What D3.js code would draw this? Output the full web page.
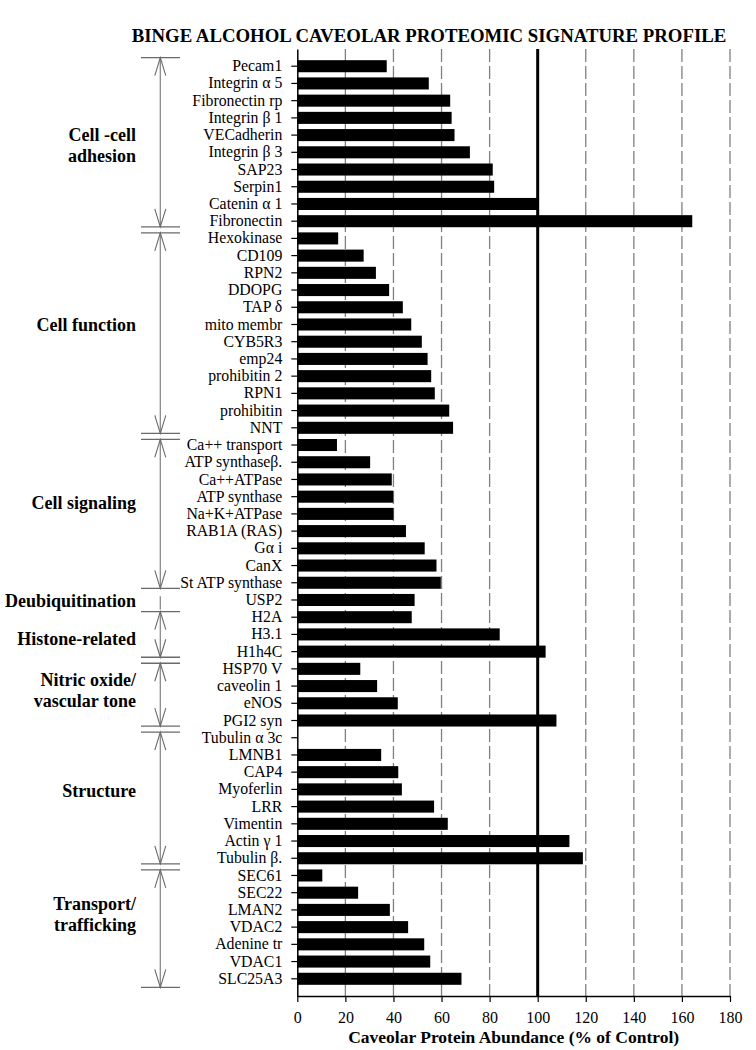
<!DOCTYPE html>
<html>
<head>
<meta charset="utf-8">
<script src="https://cdn.jsdelivr.net/npm/d3@7"></script>
<style>
  html, body { margin: 0; padding: 0; background: #fff; }
  svg { display: block; }
  text { font-family: "Liberation Serif", "Times New Roman", serif; fill: #000; }
</style>
</head>
<body>
<script>
// ---------- DATA ----------
const proteins = [
  "Pecam1", "Integrin α 5", "Fibronectin rp", "Integrin β 1", "VECadherin", "Integrin β 3",
  "SAP23", "Serpin1", "Catenin α 1", "Fibronectin",
  "Hexokinase", "CD109", "RPN2", "DDOPG", "TAP  δ", "mito membr", "CYB5R3", "emp24",
  "prohibitin 2", "RPN1", "prohibitin", "NNT",
  "Ca++ transport", "ATP synthaseβ.", "Ca++ATPase", "ATP synthase", "Na+K+ATPase",
  "RAB1A (RAS)", "Gα i", "CanX", "St ATP synthase",
  "USP2",
  "H2A", "H3.1", "H1h4C",
  "HSP70 V", "caveolin 1", "eNOS", "PGI2 syn",
  "Tubulin α 3c", "LMNB1", "CAP4", "Myoferlin", "LRR", "Vimentin", "Actin γ 1", "Tubulin β.",
  "SEC61", "SEC22", "LMAN2", "VDAC2", "Adenine tr", "VDAC1", "SLC25A3"
];
const abundance = [
  37.2, 54.7, 63.6, 64.2, 65.4, 71.8, 81.3, 81.9, 100, 164.3,
  17.0, 27.6, 32.7, 38.2, 43.9, 47.4, 51.8, 54.2, 55.7, 57.2, 63.2, 64.8,
  16.5, 30.3, 39.3, 39.9, 40.0, 45.2, 53.0, 57.9, 59.7,
  48.8,
  47.6, 84.2, 103.3,
  26.2, 33.2, 41.8, 107.8,
  0, 34.9, 42.0, 43.5, 56.9, 62.6, 113.2, 118.8,
  10.4, 25.3, 38.5, 46.1, 52.8, 55.3, 68.3
];
const groupNames = [
  ["Cell -cell", "adhesion"], ["Cell function"], ["Cell signaling"], ["Deubiquitination"],
  ["Histone-related"], ["Nitric oxide/", "vascular tone"], ["Structure"], ["Transport/", "trafficking"]
];
const groupSizes = [10, 12, 9, 1, 3, 4, 8, 7];
const xTicks = [0, 20, 40, 60, 80, 100, 120, 140, 160, 180];
const controlLevel = 100;
const title = "BINGE ALCOHOL CAVEOLAR PROTEOMIC SIGNATURE PROFILE";
const xTitle = "Caveolar Protein Abundance (% of Control)";

// ---------- LAYOUT ----------
const W = 756, H = 1050;
const plot = { left: 297.3, right: 730, top: 49, bottom: 996 };
const labelShift = [2, -8, -11, 1, 5, -4, -7, -13];
const serif = '"Liberation Serif", "Times New Roman", serif';

const svg = d3.select("body").append("svg").attr("width", W).attr("height", H);

const x = d3.scaleLinear().domain([0, 180]).range([plot.left, plot.right]);
const y = d3.scaleBand().domain(d3.range(proteins.length))
  .range([plot.top, plot.bottom]).paddingInner(0.3).paddingOuter(0.65);
const step = y.step();
const cy = i => y(i) + y.bandwidth() / 2;

// Title
svg.append("text").attr("x", 429).attr("y", 41.5).attr("text-anchor", "middle")
  .style("font-size", "18.8px").style("font-weight", "bold").text(title);

// Gridlines
svg.append("g").selectAll("line").data(xTicks.filter(t => t > 0 && t !== controlLevel))
  .join("line")
  .attr("x1", d => x(d)).attr("x2", d => x(d))
  .attr("y1", plot.top).attr("y2", plot.bottom)
  .attr("stroke", "#808080").attr("stroke-width", 1.3).attr("stroke-dasharray", "13,4");

// Bars
svg.append("g").selectAll("rect").data(abundance).join("rect")
  .attr("x", x(0)).attr("y", (d, i) => y(i))
  .attr("width", d => Math.max(0, x(d) - x(0)))
  .attr("height", y.bandwidth()).attr("fill", "#000");

// Control line at 100%
svg.append("line").attr("x1", x(controlLevel)).attr("x2", x(controlLevel))
  .attr("y1", plot.top).attr("y2", plot.bottom)
  .attr("stroke", "#000").attr("stroke-width", 3);

// Y axis
const yAxis = d3.axisLeft(y).tickSize(6).tickSizeOuter(0).tickPadding(9)
  .tickFormat(i => proteins[i]);
const gy = svg.append("g").attr("transform", `translate(${plot.left},0)`).call(yAxis);
gy.select(".domain").attr("stroke", "#000").attr("stroke-width", 1.5);
gy.selectAll(".tick line").attr("stroke", "#000").attr("stroke-width", 1.2);
gy.selectAll(".tick text").style("font-family", serif).style("font-size", "15.8px").attr("fill", "#000");

// X axis
const xAxis = d3.axisBottom(x).tickValues(xTicks).tickSize(6).tickSizeOuter(0).tickPadding(10);
const gx = svg.append("g").attr("transform", `translate(0,${plot.bottom})`).call(xAxis);
gx.select(".domain").attr("stroke", "#000").attr("stroke-width", 1.5);
gx.selectAll(".tick line").attr("stroke", "#000").attr("stroke-width", 1.2);
gx.selectAll(".tick text").style("font-family", serif).style("font-size", "16px").attr("fill", "#000");

svg.append("text").attr("x", (plot.left + plot.right) / 2).attr("y", 1043)
  .attr("text-anchor", "middle").style("font-size", "17.5px").style("font-weight", "bold")
  .text(xTitle);

// Group brackets and labels
const bx = 160.3, capL = 141, capR = 180;
const gB = svg.append("g");
let start = 0;
groupSizes.forEach((n, g) => {
  const i0 = start, i1 = start + n - 1;
  const topB = i0 === 0 ? cy(0) - step / 2 : (cy(i0 - 1) + cy(i0)) / 2;
  const botB = i1 === proteins.length - 1 ? cy(i1) + step / 2 : (cy(i1) + cy(i1 + 1)) / 2;
  const first = i0 === 0, last = i1 === proteins.length - 1;
  const t = first ? topB : topB + 3;
  const b = last ? botB : botB - 3;
  if (n > 1) {
    gB.append("line").attr("x1", bx).attr("x2", bx).attr("y1", t).attr("y2", b)
      .attr("stroke", "#8a8a8a").attr("stroke-width", 1.3);
    [t, b].forEach(yy => {
      gB.append("line").attr("x1", capL).attr("x2", capR).attr("y1", yy).attr("y2", yy)
        .attr("stroke", "#6a6a6a").attr("stroke-width", 1.3);
    });
    const dir = [[t, 1], [b, -1]];
    dir.forEach(([yy, s]) => {
      gB.append("path")
        .attr("d", `M${bx - 5.5},${yy + s * 18}L${bx},${yy}L${bx + 5.5},${yy + s * 18}`)
        .attr("fill", "none").attr("stroke", "#6a6a6a").attr("stroke-width", 1.1);
    });
  } else {
    gB.append("line").attr("x1", bx).attr("x2", bx).attr("y1", topB + 5).attr("y2", botB + 1)
      .attr("stroke", "#8a8a8a").attr("stroke-width", 1.3);
  }
  const mid = (cy(i0) + cy(i1)) / 2 + labelShift[g];
  const lines = groupNames[g];
  const base = mid + 6 - (lines.length - 1) * 10.5;
  const tx = gB.append("text").attr("text-anchor", "end")
    .style("font-size", "18px").style("font-weight", "bold");
  lines.forEach((l, k) => {
    tx.append("tspan").attr("x", 136).attr("y", base + k * 21).text(l);
  });
  start += n;
});
</script>
</body>
</html>
